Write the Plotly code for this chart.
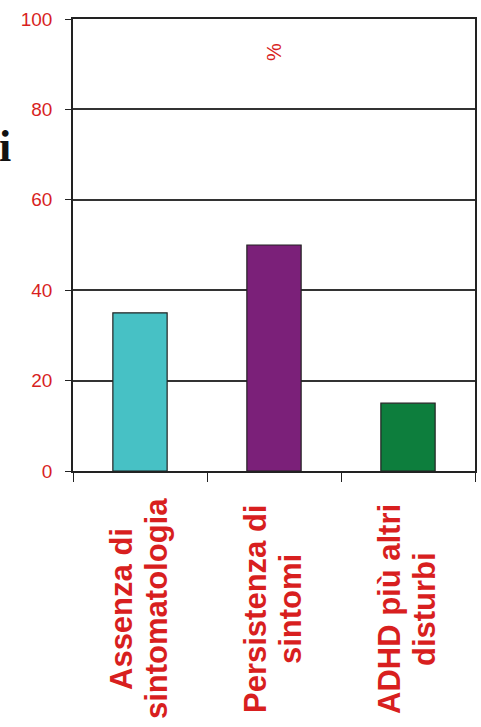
import plotly.graph_objects as go

categories = ["Assenza di sintomatologia", "Persistenza di sintomi", "ADHD più altri disturbi"]
label_lines = [["Assenza di", "sintomatologia"], ["Persistenza di", "sintomi"], ["ADHD più altri", "disturbi"]]
values = [35, 50, 15]
bar_colors = ["#47C1C5", "#7B2079", "#0D7E3D"]
y_ticks = [0, 20, 40, 60, 80, 100]
unit_label = "%"
side_text = "i"

W, H = 481, 727
L, R, T, B = 73, 4, 19, 256
pw, ph = W - L - R, H - T - B

def px_to_paper_x(px):
    return (px - L) / pw

def px_to_paper_y(py):
    return (H - B - py) / ph

red = "#D81F1F"

fig = go.Figure()
fig.add_trace(go.Bar(
    x=categories, y=values,
    marker=dict(color=bar_colors, line=dict(color="#222222", width=1.2)),
    showlegend=False,
))

annotations = []
line_shifts = [-19, 16]
for c, lines in zip(categories, label_lines):
    for ln, shift in zip(lines, line_shifts):
        annotations.append(dict(
            x=c, xref="x", y=px_to_paper_y(609), yref="paper",
            text="<b>" + ln + "</b>", showarrow=False, textangle=-90,
            xanchor="center", yanchor="middle", align="center", xshift=shift,
            font=dict(family="Arial, Liberation Sans", size=31, color=red),
        ))
annotations.append(dict(
    x=categories[1], xref="x", y=px_to_paper_y(52), yref="paper",
    text=unit_label, showarrow=False, textangle=-90,
    xanchor="center", yanchor="middle",
    font=dict(family="Arial, Liberation Sans", size=20, color=red),
))
annotations.append(dict(
    x=px_to_paper_x(13), xref="paper", y=px_to_paper_y(146), yref="paper",
    text="<b>" + side_text + "</b>", showarrow=False,
    xanchor="right", yanchor="middle",
    font=dict(family="Times New Roman, Liberation Serif", size=44, color="#111111"),
))

fig.update_layout(
    width=W, height=H,
    margin=dict(l=L, r=R, t=T, b=B, pad=0),
    paper_bgcolor="white", plot_bgcolor="white",
    bargap=0.595,
    annotations=annotations,
)
fig.update_xaxes(
    showline=True, linecolor="#222222", linewidth=1.5, mirror=True,
    showgrid=False, ticks="outside", tickson="boundaries", ticklen=9,
    tickcolor="#222222", tickwidth=1.2, showticklabels=False,
)
fig.update_yaxes(
    range=[0, 100], tickvals=y_ticks,
    showline=True, linecolor="#222222", linewidth=1.5, mirror=True,
    showgrid=True, gridcolor="#333333", gridwidth=1.5, zeroline=False,
    ticks="outside", ticklen=6, tickcolor="#222222", tickwidth=1.2,
    ticklabelstandoff=9,
    tickfont=dict(family="Arial, Liberation Sans", size=19, color=red),
)

fig.write_html("out.html")
